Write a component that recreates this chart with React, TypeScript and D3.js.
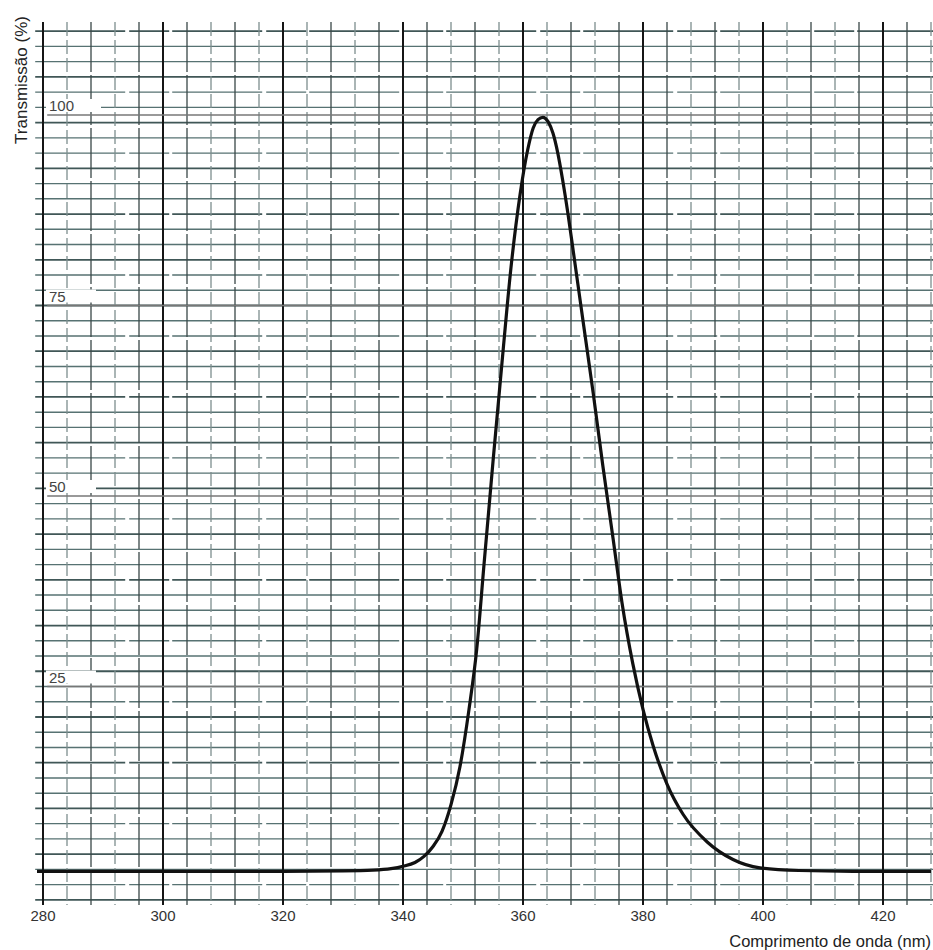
import React from "react";
import * as d3 from "d3";

// transmission curve
const wavelength = [
  279, 290, 300, 310, 320, 330, 335, 338, 340, 342, 343.5, 345, 346.5, 348,
  349.5, 351, 352.3, 353.5, 355, 356.5, 358, 359.5, 360.8, 361.7, 362.5, 363.3,
  364.2, 365, 365.8, 366.6, 367.5, 368.4, 370, 371.7, 373.3, 375, 376.5,
  378.3, 380, 381.7, 384, 386.7, 390.7, 395, 399.5, 406, 415, 428,
];
const transmission = [
  0.75, 0.75, 0.75, 0.75, 0.75, 0.8, 0.9, 1.1, 1.4, 1.9, 2.7, 4.0, 6.0, 9.5,
  14.5, 22, 30, 41, 54.5, 67.5, 80, 89.5, 95.5, 98.3, 99.4, 99.7,
  99.1, 97.6, 95, 91.5, 87, 82, 73, 63.5, 54, 44.5, 36,
  28, 22, 17.2, 12.2, 8.2, 4.6, 2.3, 1.2, 0.85, 0.75, 0.75,
];
const xTicks = [280, 300, 320, 340, 360, 380, 400, 420];
const yLabels = [25, 50, 75, 100];
const xTitle = "Comprimento de onda (nm)";
const yTitle = "Transmissão (%)";

const width = 933;
const height = 950;
const font = "'Liberation Sans', Arial, sans-serif";

export default function App() {
  const x = d3.scaleLinear().domain([280, 420]).range([43, 883]);
  const y = d3.scaleLinear().domain([0, 100]).range([877, 115]);

  const left = x(278.7);
  const right = x(428.6);
  const top = 22;
  const bottom = 905;

  const hLines = d3.range(-3, 112, 2);
  const vLines = d3.range(280, 429, 4);

  const line = d3
    .line<number>()
    .x((d) => x(wavelength[d]))
    .y((d) => y(transmission[d]))
    .curve(d3.curveMonotoneX);

  const data = d3.range(wavelength.length);

  return (
    <svg
      width={width}
      height={height}
      style={{ position: "absolute", left: 0, top: 0, background: "#fff" }}
    >
      {/* horizontal grid, every 2 % */}
      <g>
        {hLines.map((p, i) => (
          <line
            key={p}
            x1={left}
            x2={right}
            y1={y(p)}
            y2={y(p)}
            stroke={i % 3 === 0 ? "#1f3a3a" : "#3a5a5a"}
            strokeWidth={i % 3 === 0 ? 1.8 : 1.4}
            strokeDasharray={i % 4 === 1 ? "90 4 40 3" : null}
            opacity={0.85}
          />
        ))}
      </g>

      {/* vertical grid, every 4 nm */}
      <g>
        {vLines.map((nm, i) => {
          const major = nm % 20 === 0;
          return (
            <line
              key={nm}
              x1={x(nm)}
              x2={x(nm)}
              y1={top}
              y2={bottom}
              stroke={major ? "#151515" : i % 2 ? "#7d8e8e" : "#3a4848"}
              strokeWidth={major ? 2 : 1.3}
              strokeDasharray={major ? null : i % 2 ? "14 4" : "50 3"}
            />
          );
        })}
      </g>

      {/* labelled levels */}
      <g>
        {yLabels.map((v) => (
          <g key={v}>
            <line
              x1={left + 12}
              x2={right}
              y1={y(v)}
              y2={y(v)}
              stroke="#777"
              strokeWidth={1.5}
            />
            <rect x={46} y={y(v) - 16} width={v === 100 ? 55 : 50} height={13} fill="#fff" />
            <text
              x={49}
              y={y(v) - 4}
              fontFamily={font}
              fontSize={15}
              fill="#444"
            >
              {v}
            </text>
          </g>
        ))}
      </g>

      {/* curve */}
      <path
        d={line(data) ?? ""}
        fill="none"
        stroke="#111"
        strokeWidth={3.2}
        strokeLinejoin="round"
      />

      {/* x tick labels */}
      <g fontFamily={font} fontSize={15} fill="#333" textAnchor="middle">
        {xTicks.map((t) => (
          <text key={t} x={x(t)} y={921}>
            {t}
          </text>
        ))}
      </g>

      <text
        x={931}
        y={947}
        textAnchor="end"
        fontFamily={font}
        fontSize={16.5}
        fill="#222"
      >
        {xTitle}
      </text>
      <text
        transform="translate(27,80) rotate(-90)"
        textAnchor="middle"
        fontFamily={font}
        fontSize={17}
        fill="#222"
      >
        {yTitle}
      </text>
    </svg>
  );
}
